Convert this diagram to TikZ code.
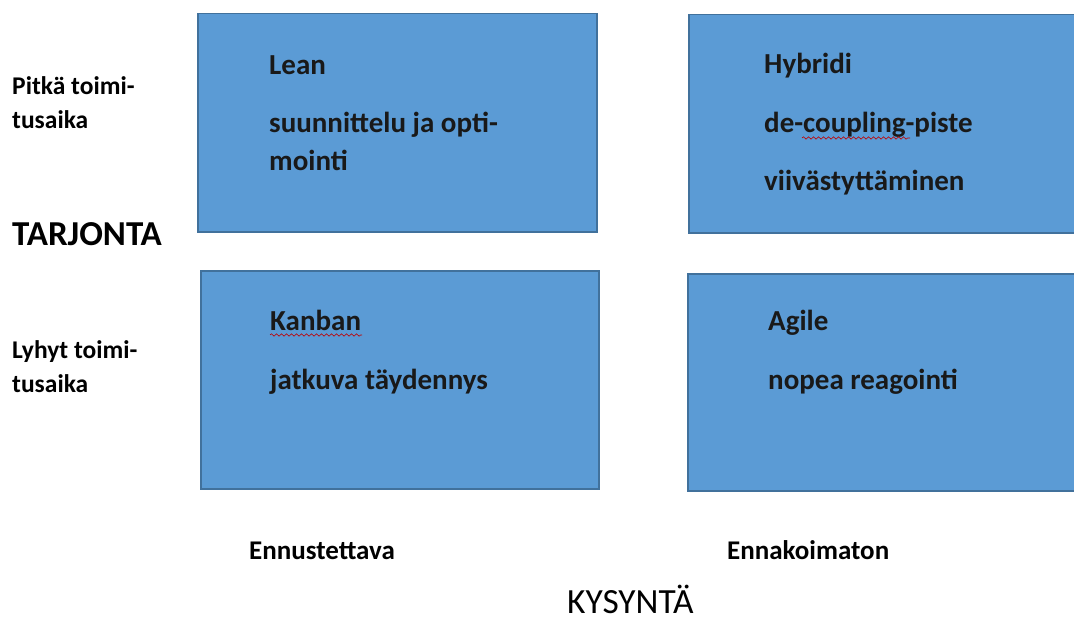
\documentclass[tikz,border=0pt]{standalone}
\usepackage{fontspec}
\setmainfont{Carlito}
\usetikzlibrary{calc, positioning, decorations.pathmorphing}

\definecolor{boxfill}{HTML}{5B9BD5}
\definecolor{boxline}{HTML}{41719C}

\begin{document}
\begin{tikzpicture}[
		x=1pt, y=-1pt,
		font=\bfseries,
		quad/.style={draw=boxline, line width=1.5pt, fill=boxfill, anchor=north west, inner sep=0pt},
		boxtext/.style={anchor=base west, inner sep=0pt, font=\fontsize{29}{35}\selectfont\bfseries, text=black!90},
		sidetext/.style={anchor=base west, inner sep=0pt, font=\fontsize{25.5}{30}\selectfont\bfseries},
		axistext/.style={anchor=base west, inner sep=0pt, font=\fontsize{27}{30}\selectfont\bfseries},
		bigtext/.style={anchor=base west, inner sep=0pt, font=\fontsize{35}{40}\selectfont\bfseries},
		squiggle/.style={red!75!black, line width=0.6pt, decorate, decoration={snake, amplitude=1.2pt, segment length=5pt}}
		]
		
		\useasboundingbox (0,0) rectangle (1074,623);
		
		% the four boxes
		\node[quad, minimum width=399pt, minimum height=218pt] (lean) at (197,13) {};
		\node[quad, minimum width=392pt, minimum height=218pt] (hybrid) at (688,14) {};
		\node[quad, minimum width=398pt, minimum height=218pt] (kanban) at (200,270) {};
		\node[quad, minimum width=392pt, minimum height=217pt] (agile) at (687,273) {};
		
		% texts in the boxes
		\node[boxtext] (leanA) at (269,75) {Lean};
		\node[boxtext] (leanB) at (269,133) {suunnittelu ja opti-};
		\node[boxtext] (leanC) at (269,171) {mointi};
		
		\node[boxtext] (hybA) at (764,74) {Hybridi};
		\node[boxtext] (hybB) at (764,133) {de-coupling-piste};
		\node[boxtext] (hybC) at (764,190) {viivästyttäminen};
		
		\node[boxtext] (kanA) at (270,330) {Kanban};
		\node[boxtext] (kanB) at (270,389) {jatkuva täydennys};
		
		\node[boxtext] (agiA) at (768,330) {Agile};
		\node[boxtext] (agiB) at (768,389) {nopea reagointi};
		
		% spell check marks
		\draw[squiggle] (802,138) -- (910,138);
		\draw[squiggle] (270,335) -- (362,335);
		
		% supply side
		\node[sidetext] (longA) at (12,95) {Pitkä toimi-};
		\node[sidetext] (longB) at (12,129) {tusaika};
		\node[bigtext] (supply) at (12,245) {TARJONTA};
		\node[sidetext] (shortA) at (12,358) {Lyhyt toimi-};
		\node[sidetext] (shortB) at (12,392) {tusaika};
		
		% demand side
		\node[axistext] (pred) at (249,559) {Ennustettava};
		\node[axistext] (unpred) at (727,559) {Ennakoimaton};
		\node[bigtext, font=\fontsize{35.4}{40}\selectfont] (demand) at (567,613) {KYSYNTÄ};
		
	\end{tikzpicture}
\end{document}
